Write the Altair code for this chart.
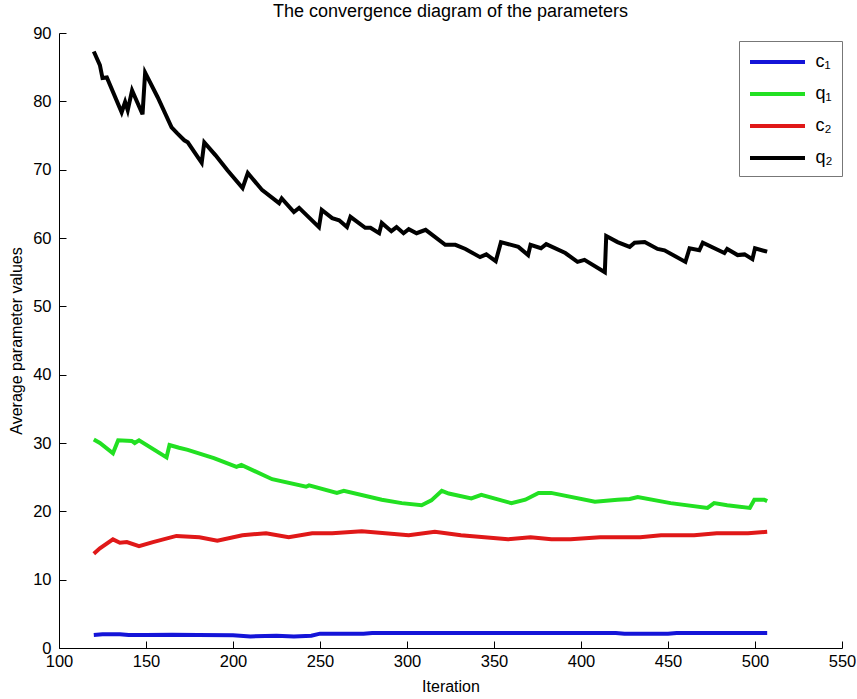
import altair as alt
import pandas as pd

# ---- data ----
series_names = ["c\u2081", "q\u2081", "c\u2082", "q\u2082"]
series_colors = ["#1414d8", "#22e022", "#e01818", "#000000"]

c1_x = [120, 125, 135, 140, 150, 165, 180, 200, 210, 225, 235, 245, 250, 275, 280, 300, 380, 420, 425, 450, 455, 507]
c1_y = [1.9, 2.0, 2.0, 1.9, 1.9, 1.95, 1.9, 1.85, 1.7, 1.8, 1.7, 1.8, 2.1, 2.1, 2.2, 2.2, 2.2, 2.2, 2.1, 2.1, 2.2, 2.2]

q1_x = [120, 123.5, 131, 134, 141.8, 143.5, 146, 161.8, 163.5, 169, 174, 189, 192, 202, 204.8, 222.5, 242, 243.7,
        259.7, 263.7, 285.5, 297, 308.4, 314, 320, 324, 337, 342.7, 360, 368, 375.6, 382.8, 408, 421, 428, 432.6,
        451.5, 472.7, 476.5, 484, 497, 499.6, 505.3, 507]
q1_y = [30.5, 30.0, 28.5, 30.4, 30.3, 30.0, 30.4, 27.9, 29.7, 29.3, 29.0, 27.8, 27.5, 26.5, 26.8, 24.7, 23.6, 23.8,
        22.7, 23.0, 21.7, 21.2, 20.9, 21.6, 23.0, 22.6, 21.9, 22.4, 21.2, 21.7, 22.7, 22.7, 21.4, 21.7, 21.8, 22.1,
        21.2, 20.5, 21.2, 20.9, 20.5, 21.7, 21.7, 21.5]

c2_x = [120, 123.5, 131, 135, 139, 146, 154, 167.5, 180.7, 191, 205.4, 219, 232, 245.5, 257, 274, 301, 316, 331,
        358, 371, 383, 394, 411, 434, 446, 465, 478, 496, 507]
c2_y = [13.8, 14.6, 15.9, 15.4, 15.5, 14.9, 15.5, 16.4, 16.2, 15.7, 16.5, 16.8, 16.2, 16.8, 16.8, 17.1, 16.5, 17.0,
        16.5, 15.9, 16.2, 15.9, 15.9, 16.2, 16.2, 16.5, 16.5, 16.8, 16.8, 17.0]

q2_x = [120, 123.5, 125, 127.5, 136, 138, 139.5, 142, 148, 149.5, 156.7, 164.7, 168, 172, 174, 182, 183.5, 190,
        196.8, 205.5, 208.5, 216.8, 226.5, 228, 235, 238, 249.4, 251, 257, 261, 265.5, 267.5, 276, 279, 284, 285.5,
        291, 294, 298, 301, 305.5, 310.7, 322, 327.8, 333.6, 342, 345.6, 351, 354, 364, 369.6, 371, 377, 380, 391,
        398, 402, 413.7, 414.5, 421, 428, 430.8, 436.6, 444, 448, 460, 462.4, 468, 470, 482.4, 484, 490, 494,
        498.5, 500, 505.5, 507]
q2_y = [87.3, 85.3, 83.4, 83.5, 78.4, 79.9, 78.7, 81.6, 78.1, 84.2, 80.6, 76.2, 75.3, 74.3, 74.0, 71.0, 74.0, 72.1,
        69.9, 67.3, 69.5, 67.0, 65.1, 65.8, 63.8, 64.4, 61.6, 64.1, 62.9, 62.6, 61.6, 63.1, 61.5, 61.5, 60.7, 62.2,
        61.0, 61.6, 60.7, 61.3, 60.7, 61.2, 59.0, 59.0, 58.4, 57.2, 57.6, 56.6, 59.4, 58.7, 57.5, 59.0, 58.5, 59.1,
        57.8, 56.5, 56.8, 55.0, 60.3, 59.4, 58.7, 59.3, 59.4, 58.4, 58.2, 56.5, 58.5, 58.2, 59.3, 57.8, 58.4, 57.5,
        57.6, 56.9, 58.5, 58.1, 58.0]

x_ticks = [100, 150, 200, 250, 300, 350, 400, 450, 500, 550]
y_ticks = [0, 10, 20, 30, 40, 50, 60, 70, 80, 90]

rows = []
for name, xs, ys in zip(series_names, [c1_x, q1_x, c2_x, q2_x], [c1_y, q1_y, c2_y, q2_y]):
    for i, (xv, yv) in enumerate(zip(xs, ys)):
        rows.append({"series": name, "iter": xv, "value": yv, "order": i})
df = pd.DataFrame(rows)

FONT = "Liberation Sans"
W, H = 783, 615

x_enc = alt.X("iter:Q", scale=alt.Scale(domain=[100, 550], nice=False, zero=False),
              axis=alt.Axis(title="Iteration", values=x_ticks, grid=False, domainColor="black",
                            tickColor="black", tickSize=0, labelColor="black", labelFontSize=16.5,
                            labelFlush=False, titleFontSize=16, titleFontWeight="normal",
                            titleColor="black", labelPadding=5, titlePadding=9,
                            labelFont=FONT, titleFont=FONT))
y_enc = alt.Y("value:Q", scale=alt.Scale(domain=[0, 90], nice=False),
              axis=alt.Axis(title="Average parameter values", values=y_ticks, grid=False,
                            domainColor="black", tickColor="black", tickSize=0, labelColor="black",
                            labelFontSize=16.5, labelFlush=False, titleFontSize=16,
                            titleFontWeight="normal", titleColor="black", labelPadding=8,
                            titlePadding=8, labelFont=FONT, titleFont=FONT))

lines = alt.Chart(df).mark_line(strokeWidth=4).encode(
    x=x_enc,
    y=y_enc,
    order="order:Q",
    color=alt.Color("series:N",
                    scale=alt.Scale(domain=series_names, range=series_colors),
                    legend=alt.Legend(title=None, orient="none", legendX=680, legendY=8,
                                      symbolType="M-2.75,0H2.75", symbolSize=400,
                                      symbolStrokeWidth=4, symbolOffset=17.5,
                                      labelFontSize=18, labelFont=FONT, labelColor="black",
                                      strokeColor="#777777", fillColor="white", padding=9,
                                      rowPadding=11, labelOffset=26)),
)

# inward ticks: mirror axes placed on the opposite side of the plot
ticks_layer = alt.Chart(df).mark_line(opacity=0).encode(
    x=alt.X("iter:Q", scale=alt.Scale(domain=[100, 550], nice=False, zero=False),
            axis=alt.Axis(orient="top", offset=-H, values=x_ticks, labels=False, domain=False,
                          grid=False, title=None, tickColor="black", tickSize=7, tickWidth=1)),
    y=alt.Y("value:Q", scale=alt.Scale(domain=[0, 90], nice=False),
            axis=alt.Axis(orient="right", offset=-W, values=y_ticks, labels=False, domain=False,
                          grid=False, title=None, tickColor="black", tickSize=7, tickWidth=1)),
    detail="series:N",
)

chart = alt.layer(lines, ticks_layer).resolve_axis(x="independent", y="independent").properties(
    width=W,
    height=H,
    title=alt.TitleParams("The convergence diagram of the parameters", fontSize=18,
                          fontWeight="normal", color="black", font=FONT, offset=4, anchor="middle"),
    autosize=alt.AutoSizeParams(type="none"),
    padding={"left": 59, "top": 33, "right": 15, "bottom": 51},
).configure_view(stroke=None)

chart.save("out.html", embed_options={"renderer": "svg", "actions": False})
